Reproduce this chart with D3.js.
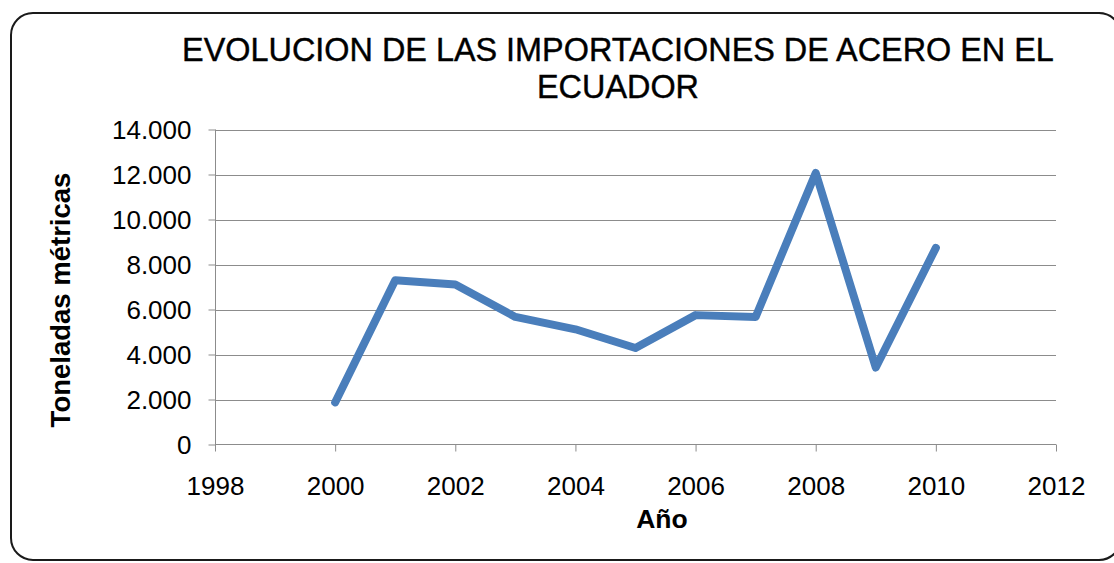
<!DOCTYPE html>
<html>
<head>
<meta charset="utf-8">
<script src="https://cdn.jsdelivr.net/npm/d3@7"></script>
<style>
  html, body { margin: 0; padding: 0; background: #fff; }
  svg { display: block; font-family: "Liberation Sans", Arial, sans-serif; }
</style>
</head>
<body>
<svg id="chart" width="1114" height="563"></svg>
<script>
// ---- data ----
const years = [2000, 2001, 2002, 2003, 2004, 2005, 2006, 2007, 2008, 2009, 2010];
const tons  = [1870, 7300, 7110, 5670, 5120, 4290, 5750, 5670, 12070, 3420, 8740];
const yTicks = [0, 2000, 4000, 6000, 8000, 10000, 12000, 14000];
const xTicks = [1998, 2000, 2002, 2004, 2006, 2008, 2010, 2012];
const titleLines = ["EVOLUCION DE LAS IMPORTACIONES DE ACERO EN EL", "ECUADOR"];
const xTitle = "Año";
const yTitle = "Toneladas métricas";

const svg = d3.select("#chart");
const plot = { left: 215, right: 1056, top: 129.5, bottom: 444.5 };

const locale = d3.formatLocale({ decimal: ",", thousands: ".", grouping: [3], currency: ["$", ""] });
const fmt = locale.format(",d");

const x = d3.scaleLinear().domain([1998, 2012]).range([plot.left, plot.right]);
const y = d3.scaleLinear().domain([0, 14000]).range([plot.bottom, plot.top]);

// frame
svg.append("rect")
  .attr("x", 11).attr("y", 13)
  .attr("width", 1110).attr("height", 547)
  .attr("rx", 22).attr("ry", 22)
  .attr("fill", "#fff").attr("stroke", "#1a1a1a").attr("stroke-width", 2);

// gridlines
svg.append("g")
  .selectAll("line")
  .data(yTicks.filter(d => d !== 0))
  .join("line")
  .attr("x1", plot.left).attr("x2", plot.right)
  .attr("y1", d => Math.round(y(d)) + 0.5).attr("y2", d => Math.round(y(d)) + 0.5)
  .attr("stroke", "#8c8c8c").attr("stroke-width", 1);

// y axis
const yAxis = d3.axisLeft(y).tickValues(yTicks).tickFormat(fmt).tickSize(7).tickPadding(17);
const gy = svg.append("g").attr("transform", `translate(${plot.left + 0.5},0)`).call(yAxis);
gy.select(".domain").attr("stroke", "#8c8c8c").attr("d", `M0,${plot.top}V${plot.bottom}`);
gy.selectAll(".tick line").attr("stroke", "#8c8c8c");
gy.selectAll(".tick text").attr("fill", "#000").style("font-size", "26px")
  .style("font-family", "'Liberation Sans', Arial, sans-serif").attr("dy", "0.36em");

// x axis
const xAxis = d3.axisBottom(x).tickValues(xTicks).tickFormat(d => String(d)).tickSize(7).tickPadding(25);
const gx = svg.append("g").attr("transform", `translate(0,${plot.bottom})`).call(xAxis);
gx.select(".domain").attr("stroke", "#8c8c8c").attr("d", `M${plot.left},0H${plot.right}`);
gx.selectAll(".tick line").attr("stroke", "#8c8c8c");
gx.selectAll(".tick text").attr("fill", "#000").style("font-size", "26px")
  .style("font-family", "'Liberation Sans', Arial, sans-serif");

// line series
const pts = years.map((yr, i) => [yr, tons[i]]);
svg.append("path")
  .datum(pts)
  .attr("fill", "none")
  .attr("stroke", "#4a7ebb")
  .attr("stroke-width", 8)
  .attr("stroke-linejoin", "round")
  .attr("stroke-linecap", "round")
  .attr("d", d3.line().x(d => x(d[0])).y(d => y(d[1])));

// title
const title = svg.append("text")
  .attr("text-anchor", "middle")
  .style("font-size", "32.4px")
  .attr("fill", "#000")
  .attr("stroke", "#000").attr("stroke-width", 0.4);
title.selectAll("tspan").data(titleLines).join("tspan")
  .attr("x", 618).attr("y", (d, i) => 61 + i * 37)
  .text(d => d);

// x title
svg.append("text")
  .attr("x", 662).attr("y", 528)
  .attr("text-anchor", "middle")
  .style("font-size", "26.5px").style("font-weight", "bold")
  .text(xTitle);

// y title
svg.append("text")
  .attr("transform", "translate(70,300) rotate(-90)")
  .attr("text-anchor", "middle")
  .style("font-size", "27.5px").style("font-weight", "bold")
  .text(yTitle);
</script>
</body>
</html>
